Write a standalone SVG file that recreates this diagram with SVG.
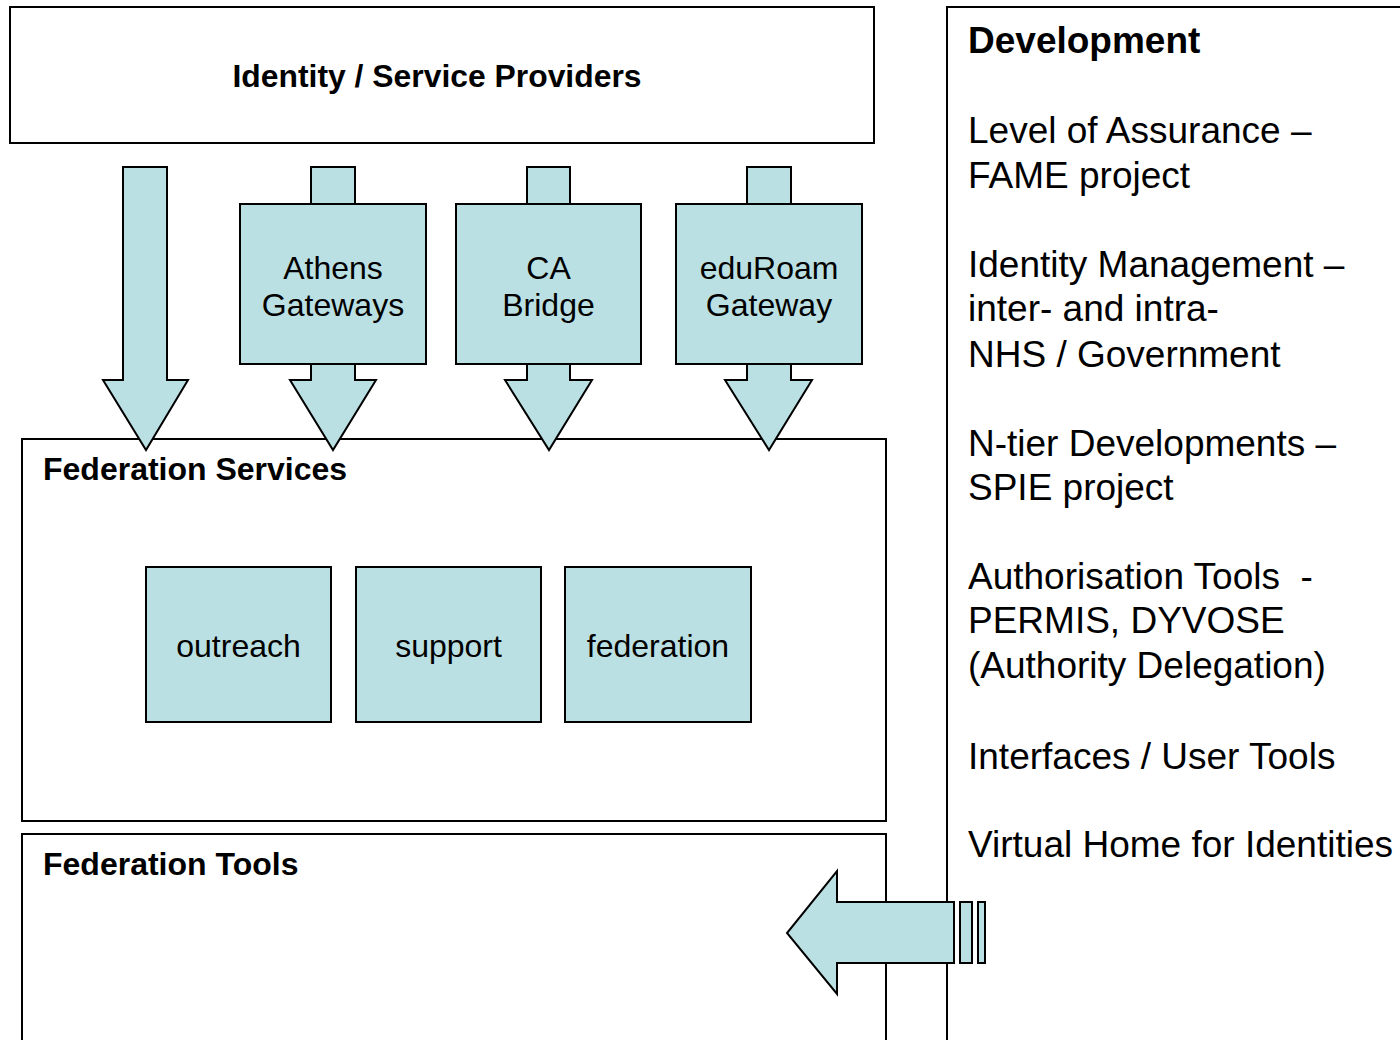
<svg xmlns="http://www.w3.org/2000/svg" width="1400" height="1040" viewBox="0 0 1400 1040">
<style>
.box{fill:#ffffff;stroke:#000;stroke-width:2}
.teal{fill:#BBE0E3;stroke:#000;stroke-width:2}
text{font-family:"Liberation Sans",Arial,sans-serif;fill:#000}
.b{font-weight:bold}
.lbl{font-size:32px;text-anchor:middle}
.dev{font-size:37px}
</style>
<rect width="1400" height="1040" fill="#fff"/>
<g id="identity-providers">
<rect class="box" x="10" y="7" width="864" height="136"/>
<text class="b" x="437" y="87" font-size="31" text-anchor="middle" textLength="409" lengthAdjust="spacingAndGlyphs">Identity / Service Providers</text>
</g>
<g id="federation-services">
<rect class="box" x="22" y="439" width="864" height="382"/>
<text class="b" x="43" y="480" font-size="32">Federation Services</text>
</g>
<g id="federation-tools">
<rect class="box" x="22" y="834" width="864" height="230"/>
<text class="b" x="43" y="875" font-size="32">Federation Tools</text>
</g>
<g id="development">
<rect class="box" x="947" y="7" width="480" height="1060"/>
<text class="b dev" x="968" y="53">Development</text>
<text class="dev" x="968" y="143">Level of Assurance –</text>
<text class="dev" x="968" y="188">FAME project</text>
<text class="dev" x="968" y="277">Identity Management –</text>
<text class="dev" x="968" y="321">inter- and intra-</text>
<text class="dev" x="968" y="367">NHS / Government</text>
<text class="dev" x="968" y="456">N-tier Developments –</text>
<text class="dev" x="968" y="500">SPIE project</text>
<text class="dev" x="968" y="589" xml:space="preserve">Authorisation Tools  -</text>
<text class="dev" x="968" y="633">PERMIS, DYVOSE</text>
<text class="dev" x="968" y="678">(Authority Delegation)</text>
<text class="dev" x="968" y="769">Interfaces / User Tools</text>
<text class="dev" x="968" y="857">Virtual Home for Identities</text>
</g>
<g id="outreach">
<rect class="teal" x="146" y="567" width="185" height="155"/>
<text class="lbl" x="238.5" y="657">outreach</text>
</g>
<g id="support">
<rect class="teal" x="356" y="567" width="185" height="155"/>
<text class="lbl" x="448.5" y="657">support</text>
</g>
<g id="federation">
<rect class="teal" x="565" y="567" width="186" height="155"/>
<text class="lbl" x="658" y="657">federation</text>
</g>
<g id="connectors">
<polygon class="teal" points="123,167 167,167 167,380 188,380 146,450 103,380 123,380"/>
<polygon class="teal" points="311,167 355,167 355,380 376,380 333,450 290,380 311,380"/>
<polygon class="teal" points="527,167 570,167 570,380 592,380 549,450 505,380 527,380"/>
<polygon class="teal" points="747,167 791,167 791,380 812,380 769,450 725,380 747,380"/>
<polygon class="teal" points="954,902 837,902 837,871 787,933 837,994 837,963 954,963"/>
<rect class="teal" x="960" y="902" width="12" height="61"/>
<rect class="teal" x="978" y="902" width="7" height="61"/>
</g>
<g id="athens-gateways">
<rect class="teal" x="240" y="204" width="186" height="160"/>
<text class="lbl" x="333" y="279">Athens</text>
<text class="lbl" x="333" y="316">Gateways</text>
</g>
<g id="ca-bridge">
<rect class="teal" x="456" y="204" width="185" height="160"/>
<text class="lbl" x="548.5" y="279">CA</text>
<text class="lbl" x="548.5" y="316">Bridge</text>
</g>
<g id="eduroam-gateway">
<rect class="teal" x="676" y="204" width="186" height="160"/>
<text class="lbl" x="769" y="279">eduRoam</text>
<text class="lbl" x="769" y="316">Gateway</text>
</g>
</svg>
